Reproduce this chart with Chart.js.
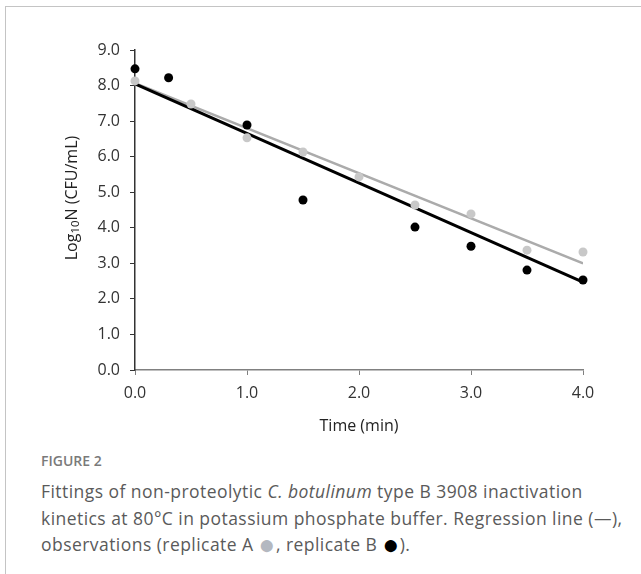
<!DOCTYPE html>
<html>
<head>
<meta charset="utf-8">
<script src="https://cdn.jsdelivr.net/npm/chart.js@4"></script>
<style>
    body { margin: 0; background: #fff; width: 641px; height: 574px; overflow: hidden; position: relative; }
    #frame { position: absolute; left: 5px; top: 6px; width: 636px; height: 568px;
             border-top: 1px solid #c4c4c4; border-left: 1px solid #c4c4c4; }
    #chart { position: absolute; left: 0; top: 0; }
    #caption { position: absolute; left: 41px; top: 451px; width: 595px;
               font-family: "Open Sans", sans-serif; color: #5a5a5a; }
    #caption .fig { font-size: 14px; font-weight: 600; color: #7a7a7a; margin-bottom: 8px; }
    #caption .txt { font-size: 17.5px; line-height: 26.5px; letter-spacing: 0.45px; }
    #caption .dot { font-size: 28px; line-height: 10px; vertical-align: -3px; }
</style>
</head>
<body>
<div id="frame"></div>
<canvas id="chart" width="641" height="440"></canvas>
<div id="caption">
    <div class="fig">FIGURE 2</div>
    <div class="txt">Fittings of non-proteolytic <i>C. botulinum</i> type B 3908 inactivation<br>kinetics at 80°C in potassium phosphate buffer. Regression line (—), observations (replicate A <span class="dot" style="color:#b4b8c0">●</span>, replicate B <span class="dot" style="color:#000">●</span>).</div>
</div>
<script>
// replicate A (grey) and replicate B (black) observations
const timeA = [0, 0.5, 1.0, 1.5, 2.0, 2.5, 3.0, 3.5, 4.0];
const logA = [8.13, 7.48, 6.53, 6.13, 5.43, 4.64, 4.39, 3.37, 3.32];
const timeB = [0, 0.3, 1.0, 1.5, 2.5, 3.0, 3.5, 4.0];
const logB = [8.47, 8.22, 6.89, 4.78, 4.02, 3.48, 2.81, 2.53];

// regression lines, end points
const fitTime = [0, 4.0];
const fitA = [8.07, 3.0];
const fitB = [8.05, 2.47];

const yTicks = [0, 1, 2, 3, 4, 5, 6, 7, 8, 9];
const xTicks = [0, 1, 2, 3, 4];

const axisFont = 'Open Sans';

function toPoints(xs, ys){
    return xs.map((x, i) => ({x: x, y: ys[i]}));
}

// y title with a subscript 10
const yTitle = {
    id: 'yTitle',
    afterDraw(chart){
        const ctx = chart.ctx;
        ctx.save();
        ctx.translate(72, 198);
        ctx.rotate(-Math.PI / 2);
        ctx.fillStyle = '#222';
        ctx.textBaseline = 'middle';
        ctx.textAlign = 'left';
        const big = '16px ' + axisFont;
        const small = '11.5px ' + axisFont;
        ctx.font = big;
        const w1 = ctx.measureText('Log').width;
        const w3 = ctx.measureText('N (CFU/mL)').width;
        ctx.font = small;
        const w2 = ctx.measureText('10').width;
        let x = -(w1 + w2 + w3) / 2;
        ctx.font = big;
        ctx.fillText('Log', x, 0);
        x += w1;
        ctx.font = small;
        ctx.fillText('10', x, 4);
        x += w2;
        ctx.font = big;
        ctx.fillText('N (CFU/mL)', x, 0);
        ctx.restore();
    }
};

const canvas = document.querySelector('#chart');
const chart = new Chart(canvas.getContext('2d'), {
    type: 'scatter',
    data: {
        datasets: [{
            label: 'Replicate B',
            data: toPoints(timeB, logB),
            backgroundColor: '#000',
            borderWidth: 0,
            pointRadius: 4.5,
            clip: false,
        }, {
            label: 'Replicate A',
            data: toPoints(timeA, logA),
            backgroundColor: '#c8c8c8',
            borderWidth: 0,
            pointRadius: 4.5,
            clip: false,
        }, {
            type: 'line',
            label: 'Fit B',
            data: toPoints(fitTime, fitB),
            borderColor: '#000',
            borderWidth: 3,
            pointRadius: 0,
            fill: false,
        }, {
            type: 'line',
            label: 'Fit A',
            data: toPoints(fitTime, fitA),
            borderColor: '#ababab',
            borderWidth: 2.5,
            pointRadius: 0,
            fill: false,
        }]
    },
    options: {
        responsive: false,
        animation: false,
        layout: { padding: { top: 50, right: 58, left: 0, bottom: 0 } },
        scales: {
            x: {
                type: 'linear',
                min: 0,
                max: 4,
                afterBuildTicks: (scale) => { scale.ticks = xTicks.map(v => ({value: v})); },
                afterFit: (scale) => { scale.height = 70; },
                ticks: {
                    callback: (v) => v.toFixed(1),
                    font: { family: axisFont, size: 16 },
                    color: '#333',
                    padding: 9,
                },
                grid: { drawOnChartArea: false, tickLength: 5, color: '#808080' },
                border: { color: '#808080', width: 1.5 },
                title: {
                    display: true,
                    text: 'Time (min)',
                    font: { family: axisFont, size: 16 },
                    color: '#222',
                    padding: { top: 6 },
                },
            },
            y: {
                min: 0,
                max: 9,
                afterBuildTicks: (scale) => { scale.ticks = yTicks.map(v => ({value: v})); },
                afterFit: (scale) => { scale.width = 135; },
                ticks: {
                    callback: (v) => v.toFixed(1),
                    font: { family: axisFont, size: 16 },
                    color: '#333',
                    padding: 10,
                },
                grid: { drawOnChartArea: false, tickLength: 5, color: '#333' },
                border: { color: '#333', width: 1.5 },
            },
        },
        plugins: {
            legend: { display: false },
            tooltip: { enabled: false },
        },
    },
    plugins: [yTitle],
});
</script>
</body>
</html>
